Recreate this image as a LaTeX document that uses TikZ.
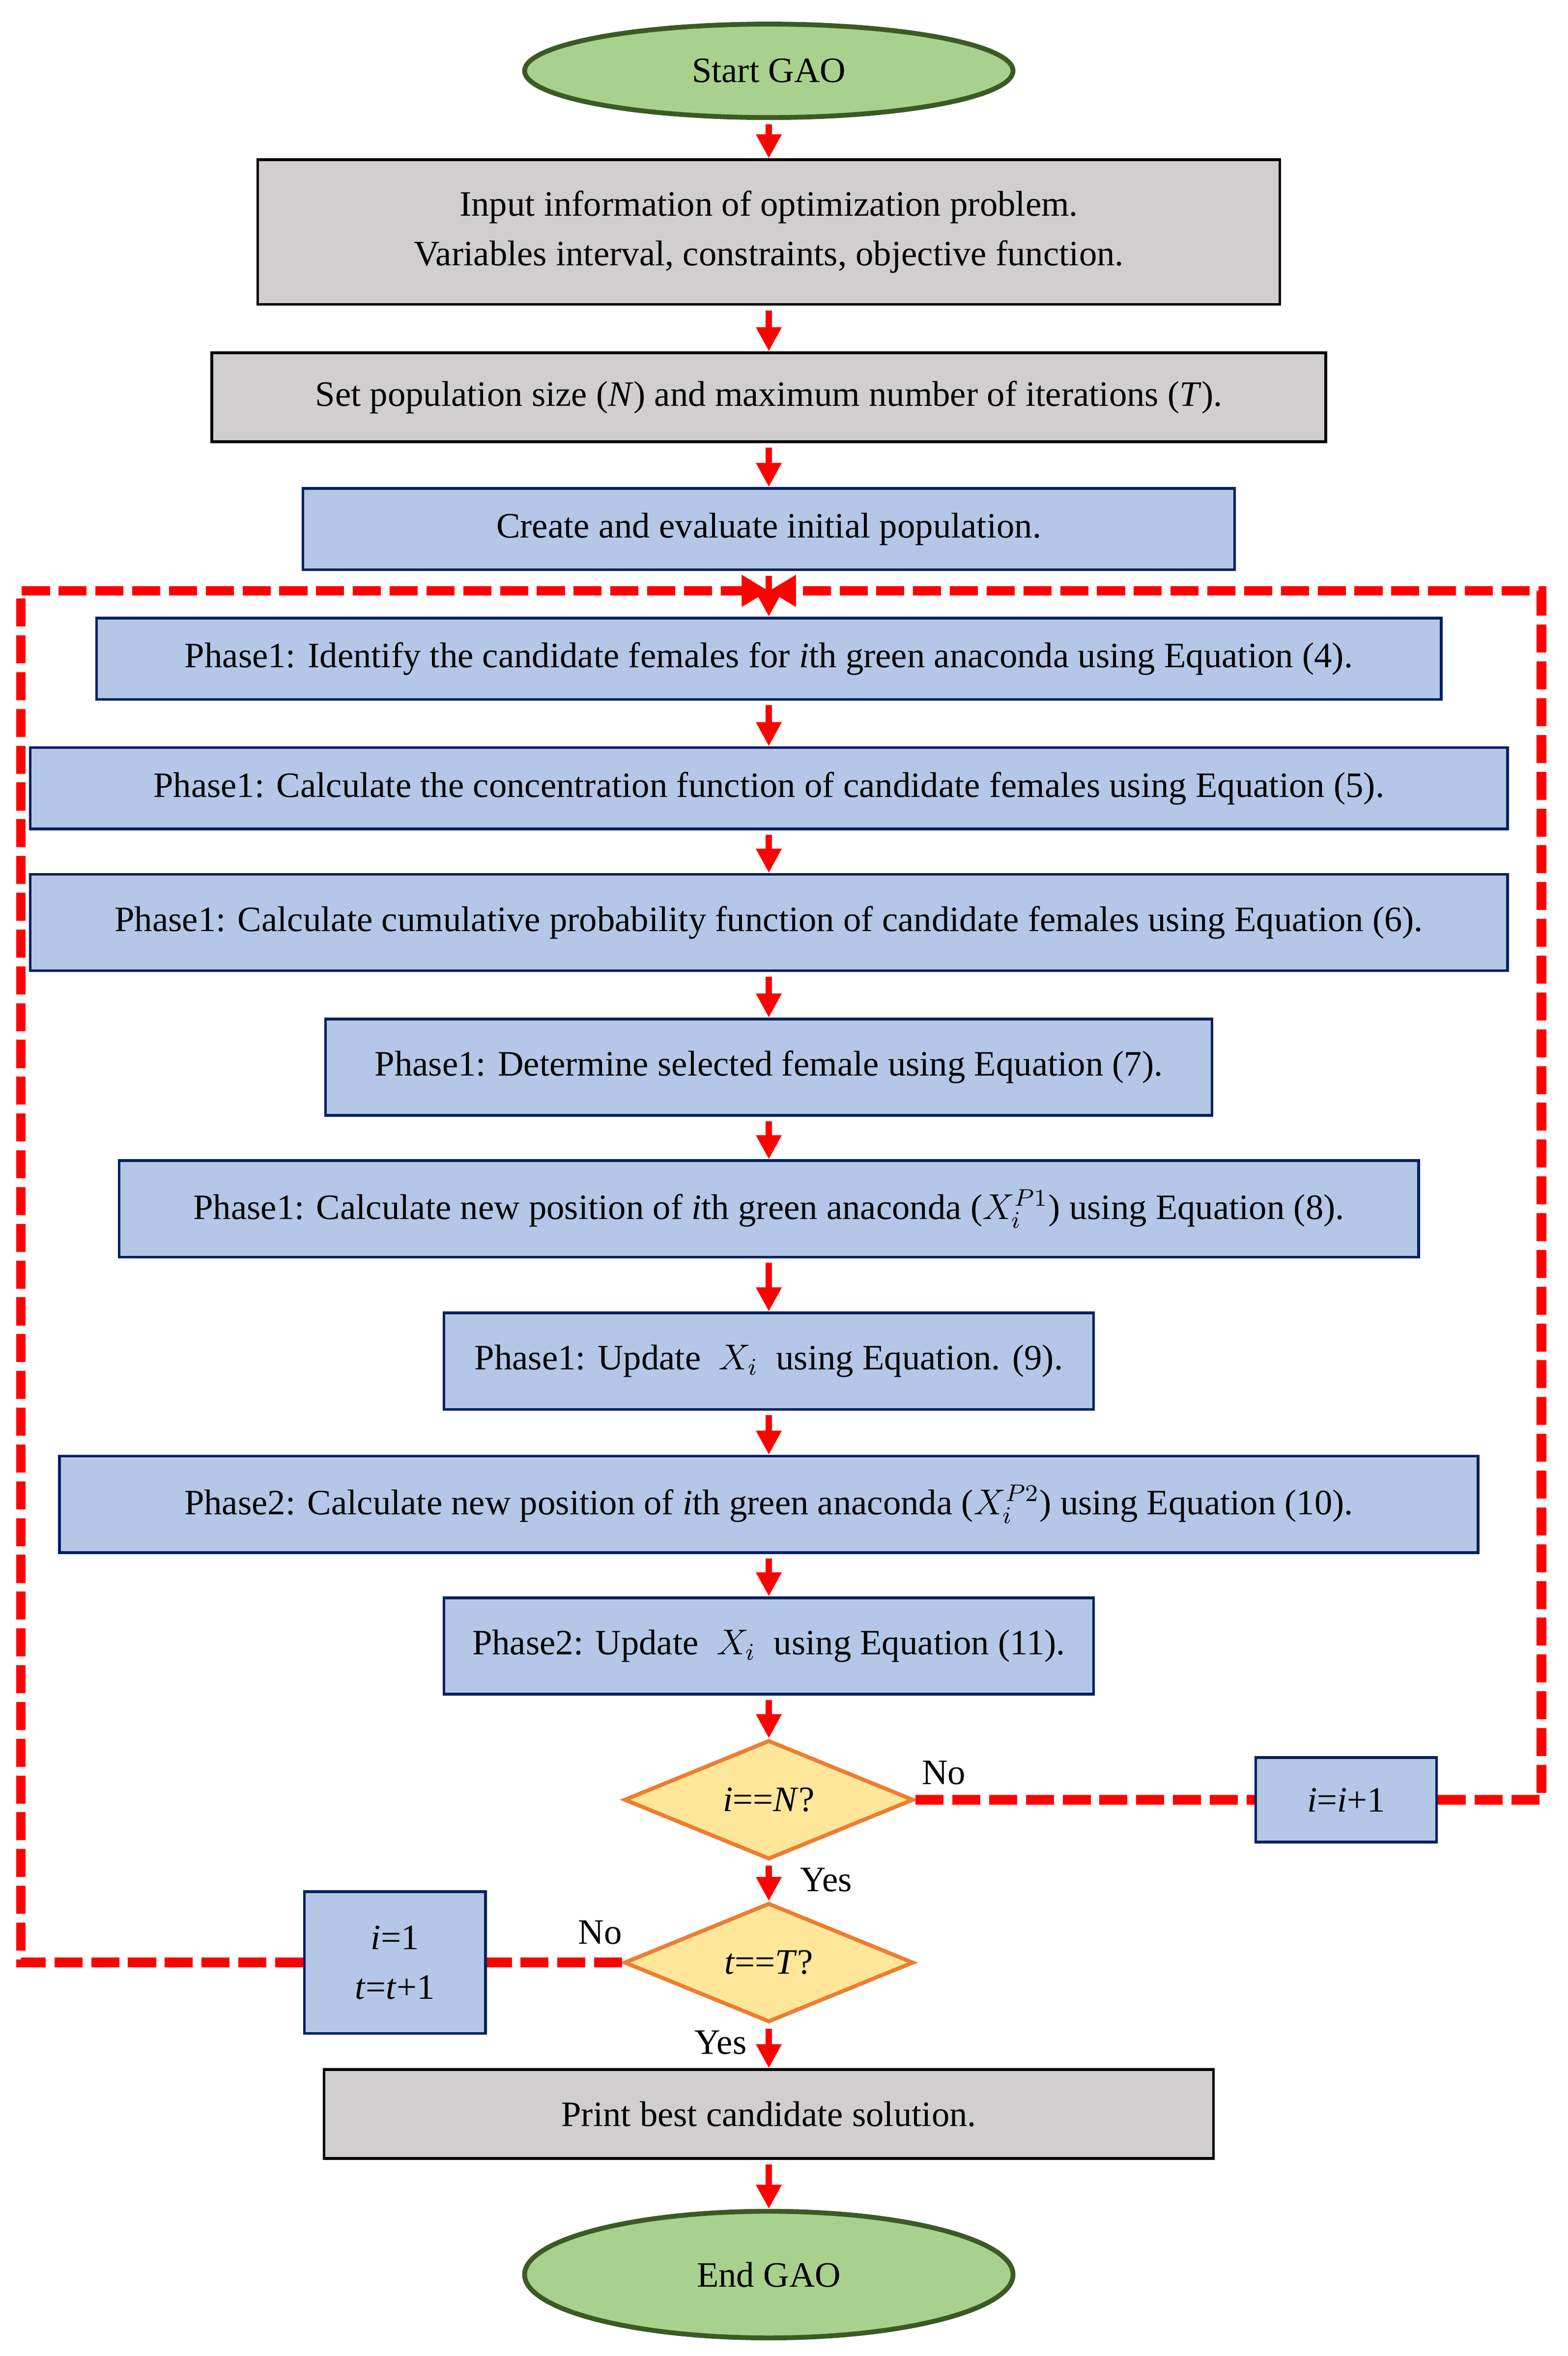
\documentclass[tikz,border=0pt]{standalone}
\usepackage{fontspec}
\setmainfont{Liberation Serif}
\usepackage{tikz}
\usetikzlibrary{shapes.geometric,arrows.meta}
\definecolor{termfill}{HTML}{A9D18E}
\definecolor{termline}{HTML}{3B5A24}
\definecolor{greyfill}{HTML}{D0CECE}
\definecolor{stepfill}{HTML}{B4C7E7}
\definecolor{stepline}{HTML}{002060}
\definecolor{askfill}{HTML}{FFE699}
\definecolor{askline}{HTML}{ED7D31}

\begin{document}
\begin{tikzpicture}[>=latex,line join=miter,
  every node/.style={font=\fontsize{11.9}{16.5}\selectfont,inner sep=0pt,align=center},
  term/.style={draw=termline,fill=termfill,ellipse,line width=1.6bp,minimum width=162bp},
  greybox/.style={draw=black,fill=greyfill,rectangle,line width=0.9bp},
  stepbox/.style={draw=stepline,fill=stepfill,rectangle,line width=0.9bp},
  ask/.style={draw=askline,fill=askfill,diamond,line width=1.3bp,minimum width=96bp,minimum height=39.5bp},
  flow/.style={-{Triangle[length=8bp,width=8bp]},red,line width=2bp,shorten <=1.5bp},
  loopline/.style={red,line width=3.2bp,dash pattern=on 9.3bp off 2.9bp},
  looptip/.style={-{Triangle[length=9bp,width=10bp]}},
  ]
%%
\useasboundingbox (0bp,0bp) rectangle (520bp,781.5bp);
  \node (start) at (255bp,758bp) [term,minimum height=31bp] {Start GAO};
  \node (input) at (255bp,704.5bp) [greybox,minimum width=339bp,minimum height=48bp] {Input information of optimization problem.\\ Variables interval, constraints, objective function.};
  \node (setpop) at (255bp,649.75bp) [greybox,minimum width=369.5bp,minimum height=29.5bp] {Set population size (\textit{N}) and maximum number of iterations (\textit{T}).};
  \node (create) at (255bp,606bp) [stepbox,minimum width=309bp,minimum height=27bp] {Create and evaluate initial population.};
  \node (females) at (255bp,563bp) [stepbox,minimum width=446bp,minimum height=27bp] {Phase1: Identify the candidate females for \textit{i}th green anaconda using Equation (4).};
  \node (concent) at (255bp,520bp) [stepbox,minimum width=490bp,minimum height=27bp] {Phase1: Calculate the concentration function of candidate females using Equation (5).};
  \node (cumprob) at (255bp,475.5bp) [stepbox,minimum width=490bp,minimum height=32bp] {Phase1: Calculate cumulative probability function of candidate females using Equation (6).};
  \node (select) at (255bp,427.5bp) [stepbox,minimum width=294bp,minimum height=32bp] {Phase1: Determine selected female using Equation (7).};
  \node (newpa) at (255bp,380.5bp) [stepbox,minimum width=431bp,minimum height=32bp] {Phase1: Calculate new position of \textit{i}th green anaconda ($X_i^{P1}$) using Equation (8).};
  \node (updatea) at (255bp,330bp) [stepbox,minimum width=215.5bp,minimum height=32bp] {Phase1: Update \ $X_i$ \ using Equation. (9).};
  \node (newpb) at (255bp,282.5bp) [stepbox,minimum width=470.5bp,minimum height=32bp] {Phase2: Calculate new position of \textit{i}th green anaconda ($X_i^{P2}$) using Equation (10).};
  \node (updateb) at (255bp,235.5bp) [stepbox,minimum width=215.5bp,minimum height=32bp] {Phase2: Update \ $X_i$ \ using Equation (11).};
  \node (askN) at (255bp,184.5bp) [ask] {\textit{i}==\textit{N}?};
  \node (inci) at (446.5bp,184.5bp) [stepbox,minimum width=60bp,minimum height=28bp] {\textit{i}=\textit{i}+1};
  \node (askT) at (255bp,130.5bp) [ask] {\textit{t}==\textit{T}?};
  \node (inct) at (131bp,130.5bp) [stepbox,minimum width=60bp,minimum height=47bp] {\textit{i}=1\\ \textit{t}=\textit{t}+1};
  \node (print) at (255bp,80.25bp) [greybox,minimum width=295bp,minimum height=29.5bp] {Print best candidate solution.};
  \node (end) at (255bp,27bp) [term,minimum height=42bp] {End GAO};
  \node (noN) at (313bp,193.5bp) {No};
  \node (yesN) at (274bp,158bp) {Yes};
  \node (noT) at (199bp,140.5bp) {No};
  \node (yesT) at (239bp,104bp) {Yes};
  \coordinate (rturn) at (511.25bp,184.5bp);
  \coordinate (rtop) at (511.25bp,585.5bp);
  \coordinate (lturn) at (6.9bp,130.5bp);
  \coordinate (ltop) at (6.9bp,585.5bp);
  \coordinate (merge) at (255bp,585.5bp);
  \draw [flow] (start) -- (input);
  \draw [flow] (input) -- (setpop);
  \draw [flow] (setpop) -- (create);
  \draw [flow] (create) -- (females);
  \draw [flow] (females) -- (concent);
  \draw [flow] (concent) -- (cumprob);
  \draw [flow] (cumprob) -- (select);
  \draw [flow] (select) -- (newpa);
  \draw [flow] (newpa) -- (updatea);
  \draw [flow] (updatea) -- (newpb);
  \draw [flow] (newpb) -- (updateb);
  \draw [flow] (updateb) -- (askN);
  \draw [flow] (askN) -- (askT);
  \draw [flow] (askT) -- (print);
  \draw [flow] (print) -- (end);
  \draw [loopline] (askN) -- (inci);
  \draw [loopline,looptip] (inci) -- (rturn) -- (rtop) -- (merge);
  \draw [loopline] (askT) -- (inct);
  \draw [loopline,looptip] (inct) -- (lturn) -- (ltop) -- (merge);
%
\end{tikzpicture}
\end{document}
